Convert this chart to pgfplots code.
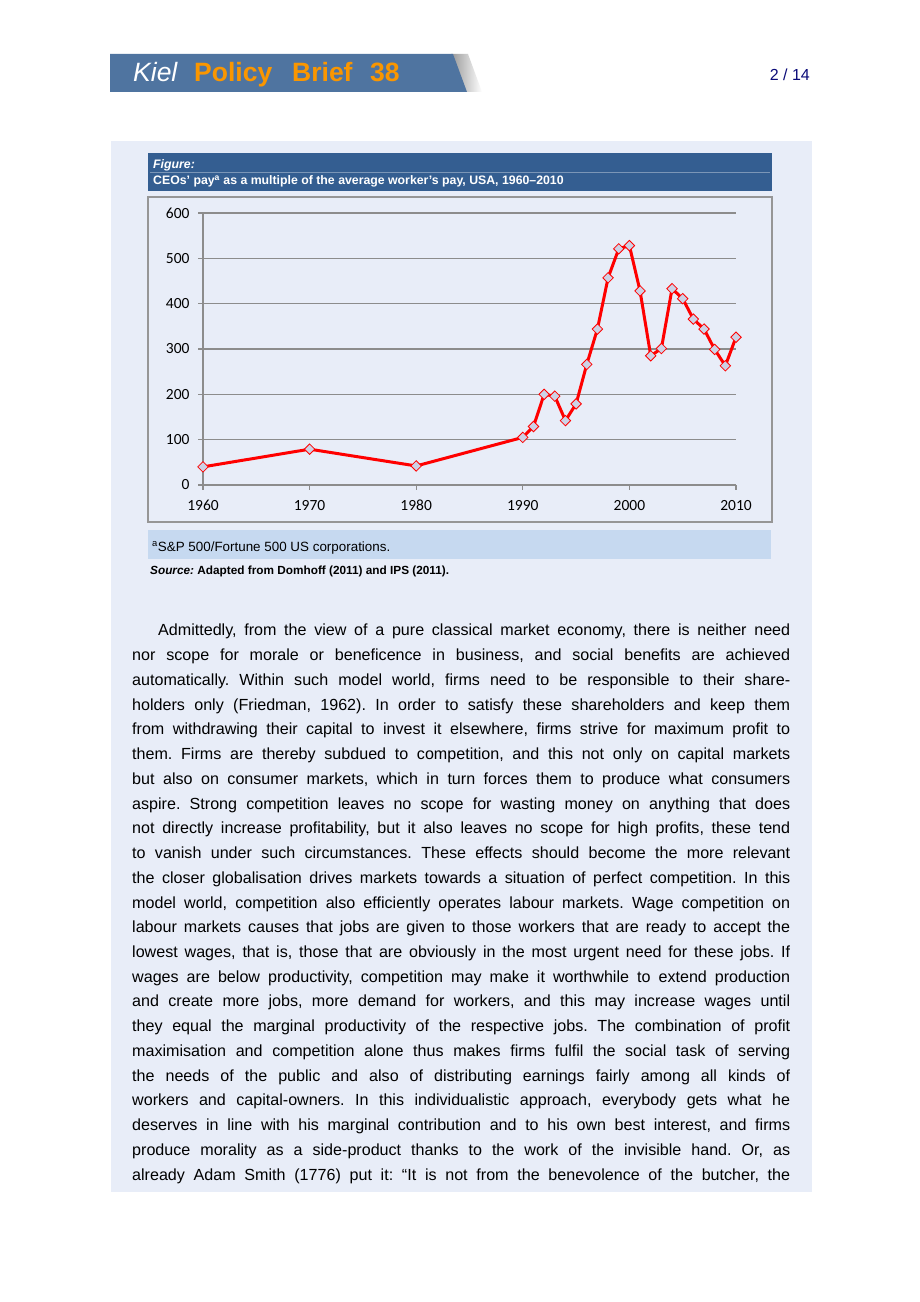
\documentclass[border=0pt]{standalone}
\usepackage{fontspec}
\setmainfont{Liberation Sans}
\newfontfamily\carlito[Numbers=Lining]{Carlito}
\usepackage{pgfplots}
\pgfplotsset{compat=1.18}
\definecolor{hdrblue}{RGB}{79,116,160}
\definecolor{hdrorange}{RGB}{250,150,0}
\definecolor{pgnavy}{RGB}{10,10,120}
\definecolor{panel}{RGB}{232,237,248}
\definecolor{titleband}{RGB}{52,94,145}
\definecolor{footband}{RGB}{198,217,240}
\definecolor{boxgray}{RGB}{150,150,150}
\definecolor{gridgray}{RGB}{140,140,140}
\definecolor{markfill}{RGB}{205,210,230}

\pgfplotstableread{
year value
1960 40
1970 79
1980 42
1990 105
1991 129
1992 200
1993 196
1994 142
1995 179
1996 266
1997 344
1998 457
1999 521
2000 528
2001 428
2002 285
2003 301
2004 433
2005 411
2006 366
2007 344
2008 299
2009 263
2010 326
}\ceodata

\begin{document}
\frenchspacing
\begin{tikzpicture}[x=1pt,y=1pt]
\fill[white] (0,0) rectangle (920,1302);
% header band with shadow
\shade[left color=black!40, right color=white] (451,1302-54) -- (468,1302-54) -- (482,1302-92) -- (465,1302-92) -- cycle;
\fill[hdrblue] (110,1302-54) -- (453,1302-54) -- (467,1302-92) -- (110,1302-92) -- cycle;
\node[anchor=base west, inner sep=0, text=white, font=\fontsize{26.5}{30}\selectfont\itshape] at (133,1302-82) {Kiel};
\node[anchor=base west, inner sep=0, text=hdrorange, font=\fontsize{26.5}{30}\selectfont\bfseries] at (194,1302-82) {Policy};
\node[anchor=base west, inner sep=0, text=hdrorange, font=\fontsize{26.5}{30}\selectfont\bfseries] at (292,1302-82) {Brief};
\node[anchor=base west, inner sep=0, text=hdrorange, font=\fontsize{26.5}{30}\selectfont\bfseries] at (370,1302-82) {38};
\node[anchor=base east, inner sep=0, text=pgnavy, font=\fontsize{16}{18}\selectfont] at (810,1302-81) {2 / 14};

% panel
\fill[panel] (111,1302-141) rectangle (812,1302-1192);
% title band
\fill[titleband] (148,1302-153) rectangle (772,1302-191);
\draw[line width=0.6pt, color=white!35!titleband] (150,1302-172.5) -- (770,1302-172.5);
\node[anchor=base west, inner sep=0, text=white, font=\fontsize{12.3}{13}\selectfont\bfseries\itshape] at (153,1302-169) {Figure:};
\node[anchor=base west, inner sep=0, text=white, font=\fontsize{12.3}{13}\selectfont\bfseries] at (153,1302-184.5) {CEOs' pay\textsuperscript{a} as a multiple of the average worker's pay, USA, 1960--2010};
% chart box
\draw[boxgray, line width=1.3pt] (148,1302-197) rectangle (772,1302-522);
% footnote band
\fill[footband] (148,1302-530) rectangle (771,1302-559);
\node[anchor=base west, inner sep=0, font=\fontsize{13.4}{14}\selectfont] at (152,1302-552) {\textsuperscript{a}S\&P 500/Fortune 500 US corporations.};
\node[anchor=base west, inner sep=0, font=\fontsize{11.8}{13}\selectfont\bfseries] at (150,1302-575) {\itshape Source:\upshape\ Adapted from Domhoff (2011) and IPS (2011).};

% chart
\begin{axis}[
  at={(203pt,817pt)}, anchor=south west,
  scale only axis, width=533pt, height=272pt,
  xmin=1960, xmax=2010, ymin=0, ymax=600,
  xtick={1960,1970,...,2010}, ytick={0,100,...,600},
  axis x line*=bottom, axis y line*=left,
  axis line style={draw=gridgray, line width=1.2pt},
  ymajorgrids, grid style={draw=gridgray, line width=1.2pt},
  tick style={draw=gridgray, line width=1.2pt},
  tick align=outside, major tick length=5pt,
  every tick label/.append style={font=\carlito\fontsize{15.5}{15.5}\selectfont},
  yticklabel style={xshift=-5pt},
  xticklabel style={yshift=-7pt, text height=10pt, text depth=0pt},
  /pgf/number format/1000 sep={}, /pgf/number format/assume math mode=true,
  clip=false,
]
\addplot[red, line width=3pt, mark=square*, mark size=3.7pt,
  mark options={solid, rotate=45, draw=red, fill=markfill, line width=0.8pt}]
  table[x=year, y=value] {\ceodata};
\end{axis}

% paragraph
\node[anchor=base west, inner sep=0] at (132,1302-636) {\parbox[t]{658pt}{\fontsize{16.1}{24.73}\selectfont\frenchspacing\parindent=0pt\parfillskip=0pt
\hspace*{26pt}Admittedly, from the view of a pure classical market economy, there is neither need\linebreak
nor scope for morale or beneficence in business, and social benefits are achieved\linebreak
automatically. Within such model world, firms need to be responsible to their share-\linebreak
holders only (Friedman, 1962). In order to satisfy these shareholders and keep them\linebreak
from withdrawing their capital to invest it elsewhere, firms strive for maximum profit to\linebreak
them. Firms are thereby subdued to competition, and this not only on capital markets\linebreak
but also on consumer markets, which in turn forces them to produce what consumers\linebreak
aspire. Strong competition leaves no scope for wasting money on anything that does\linebreak
not directly increase profitability, but it also leaves no scope for high profits, these tend\linebreak
to vanish under such circumstances. These effects should become the more relevant\linebreak
the closer globalisation drives markets towards a situation of perfect competition. In this\linebreak
model world, competition also efficiently operates labour markets. Wage competition on\linebreak
labour markets causes that jobs are given to those workers that are ready to accept the\linebreak
lowest wages, that is, those that are obviously in the most urgent need for these jobs. If\linebreak
wages are below productivity, competition may make it worthwhile to extend production\linebreak
and create more jobs, more demand for workers, and this may increase wages until\linebreak
they equal the marginal productivity of the respective jobs. The combination of profit\linebreak
maximisation and competition alone thus makes firms fulfil the social task of serving\linebreak
the needs of the public and also of distributing earnings fairly among all kinds of\linebreak
workers and capital-owners. In this individualistic approach, everybody gets what he\linebreak
deserves in line with his marginal contribution and to his own best interest, and firms\linebreak
produce morality as a side-product thanks to the work of the invisible hand. Or, as\linebreak
already Adam Smith (1776) put it: “It is not from the benevolence of the butcher, the\par}};
\end{tikzpicture}
\end{document}
